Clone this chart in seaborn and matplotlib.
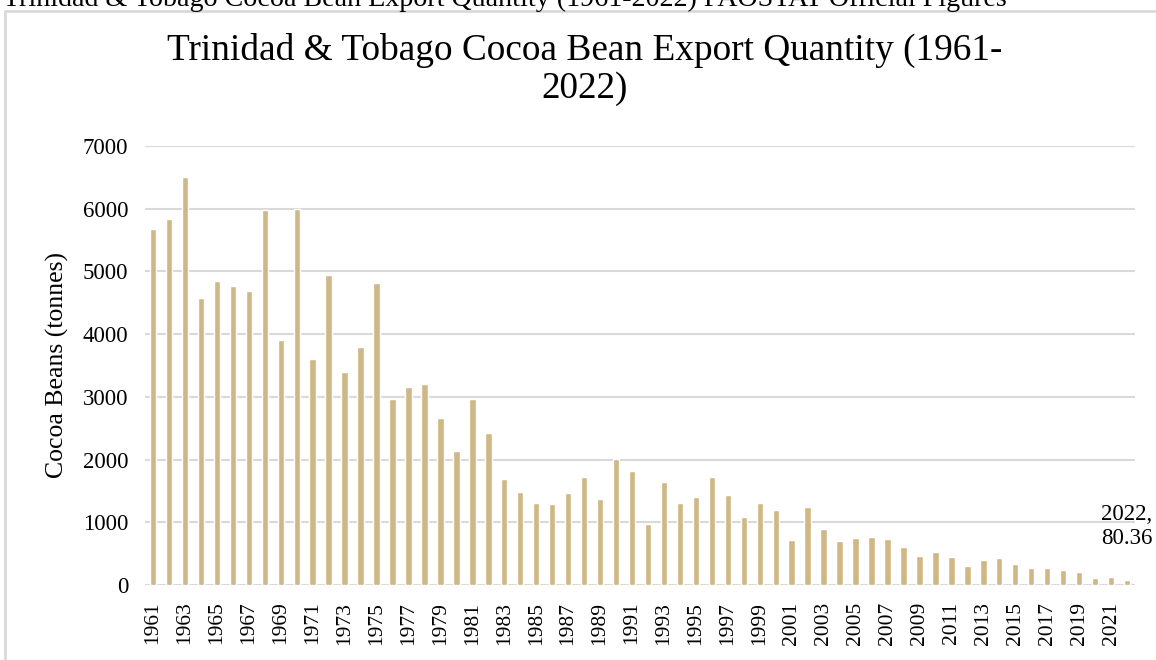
import matplotlib
matplotlib.use("Agg")
import matplotlib.pyplot as plt
from matplotlib.patches import Rectangle
import pandas as pd
import seaborn as sns

years = list(range(1961, 2023))
tonnes = [5680, 5830, 6500, 4580, 4850, 4775, 4690, 5975, 3900, 5990,
          3605, 4945, 3390, 3790, 4815, 2965, 3160, 3210, 2660, 2140,
          2965, 2420, 1685, 1485, 1300, 1290, 1460, 1715, 1365, 2005,
          1820, 975, 1635, 1310, 1410, 1725, 1440, 1090, 1300, 1200,
          720, 1240, 890, 700, 750, 765, 740, 600, 455, 520,
          450, 300, 400, 430, 330, 265, 275, 245, 215, 115,
          135, 80.36]

title = "Trinidad & Tobago Cocoa Bean Export Quantity (1961-\n2022)"
caption = "Trinidad & Tobago Cocoa Bean Export Quantity (1961-2022) FAOSTAT Official Figures"
bar_color = "#CFB886"
grid_color = "#D9D9D9"

df = pd.DataFrame({"year": [str(y) for y in years], "tonnes": tonnes})

sns.set_style("white")
plt.rcParams["font.family"] = ["Liberation Serif", "DejaVu Serif"]
plt.rcParams["text.color"] = "black"
plt.rcParams["xtick.color"] = "black"
plt.rcParams["ytick.color"] = "black"
plt.rcParams["axes.labelcolor"] = "black"

fig = plt.figure(figsize=(11.56, 6.6), dpi=100)
ax = fig.add_axes([145 / 1156, 1 - 585 / 660, 990 / 1156, 439 / 660])

sns.barplot(data=df, x="year", y="tonnes", color=bar_color, width=0.4,
            saturation=1, ax=ax, zorder=3)

ax.set_ylim(0, 7000)
ax.set_xlim(-0.5, len(years) - 0.5)
ax.set_yticks(range(0, 7001, 1000))
ax.yaxis.grid(True, color=grid_color, linewidth=1.5, zorder=0)
ax.set_axisbelow(True)
for s in ax.spines.values():
    s.set_visible(False)

ax.set_xticks(range(0, len(years), 2))
ax.set_xticklabels(df["year"][::2], rotation=90)
ax.tick_params(axis="x", length=0, pad=12, labelsize=15.5)
ax.tick_params(axis="y", length=0, pad=12, labelsize=16.5)
ax.set_xlabel("")
ax.set_ylabel("Cocoa Beans (tonnes)", fontsize=18.5, labelpad=10)

ax.annotate("2022,\n80.36", xy=(len(years) - 1, tonnes[-1]), xytext=(0, 22),
            textcoords="offset points", ha="center", va="bottom",
            fontsize=16.5, multialignment="left")

fig.text(585 / 1156, 1 - 33 / 660, title, ha="center", va="top",
         fontsize=26.8, linespacing=1.12)
fig.text(3 / 1156, 1 - 6 / 660, caption, ha="left", va="baseline",
         fontsize=20.2)
fig.patches.append(Rectangle((5 / 1156, -0.1), 1.2, 1 - 11 / 660 + 0.1,
                             transform=fig.transFigure, fill=False,
                             edgecolor=grid_color, linewidth=2))

fig.savefig("out.png", dpi=100)
